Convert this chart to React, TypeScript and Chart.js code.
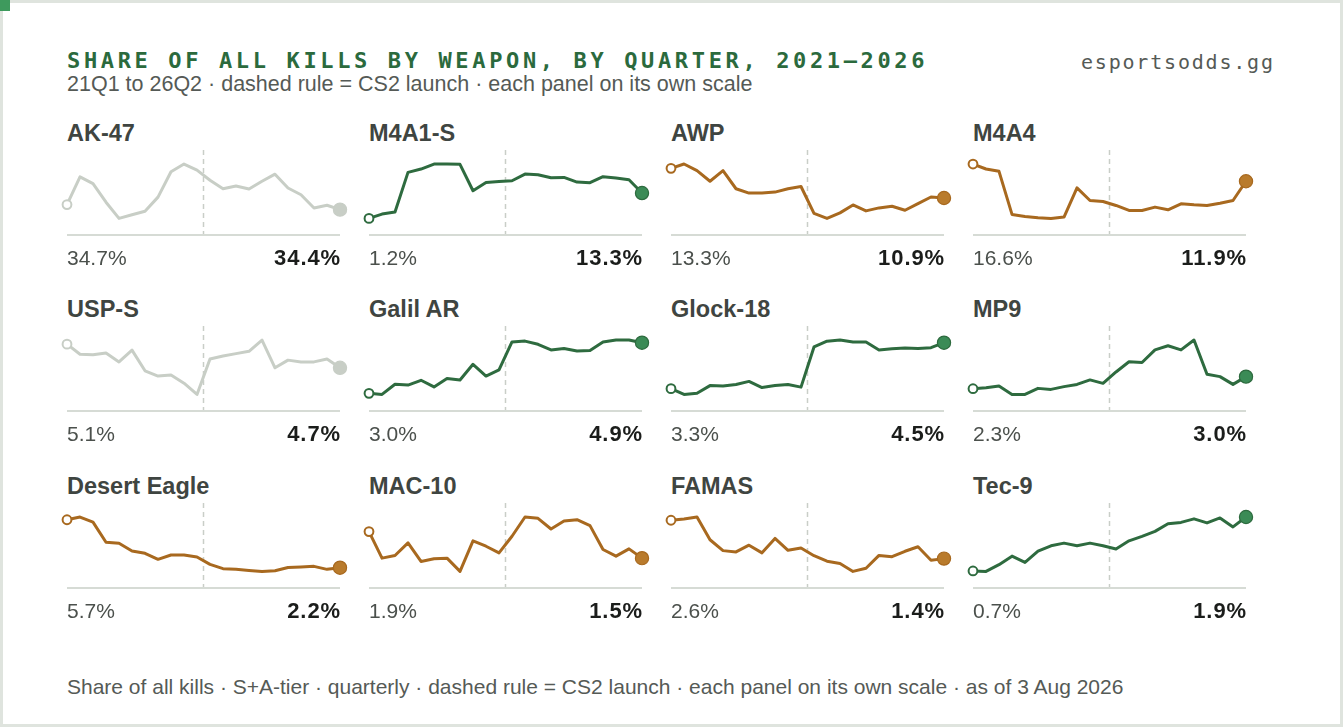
import { useEffect, useRef } from "react";
import { Chart, registerables } from "chart.js";

Chart.register(...registerables);

const quarters = [
  "21Q1", "21Q2", "21Q3", "21Q4", "22Q1", "22Q2", "22Q3", "22Q4",
  "23Q1", "23Q2", "23Q3", "23Q4", "24Q1", "24Q2", "24Q3", "24Q4",
  "25Q1", "25Q2", "25Q3", "25Q4", "26Q1", "26Q2",
];

// CS2 went live at the very end of 23Q3, so the rule sits between 23Q3 and 23Q4
const cs2Launch = 10.5;

// share of all kills, %
const ak47 = [34.7, 36.34, 35.94, 34.84, 33.88, 34.1, 34.3, 35.14, 36.64, 37.1, 36.74, 36.14, 35.64, 35.8, 35.62, 36.08, 36.5, 35.68, 35.28, 34.5, 34.66, 34.4];
const m4a1s = [1.2, 3.27, 4.22, 23.17, 24.76, 27.15, 27.15, 26.99, 14.41, 18.39, 18.87, 19.19, 22.37, 22.06, 20.62, 20.78, 18.55, 18.23, 21.1, 20.46, 19.67, 13.3];
const awp = [13.3, 13.65, 13.11, 12.26, 13.11, 11.65, 11.3, 11.3, 11.38, 11.65, 11.83, 9.65, 9.25, 9.7, 10.34, 9.86, 10.1, 10.23, 9.91, 10.45, 10.98, 10.9];
const m4a4 = [16.6, 15.24, 14.61, 2.86, 2.32, 1.96, 1.77, 2.14, 10.09, 6.66, 6.39, 5.3, 3.94, 3.94, 4.85, 4.12, 5.75, 5.48, 5.3, 5.93, 6.66, 11.9];
const uspS = [5.1, 4.93, 4.92, 4.95, 4.8, 5.0, 4.65, 4.56, 4.58, 4.44, 4.25, 4.85, 4.9, 4.94, 4.98, 5.17, 4.7, 4.83, 4.8, 4.8, 4.85, 4.7];
const galil = [3.0, 2.96, 3.34, 3.31, 3.49, 3.24, 3.56, 3.5, 4.09, 3.65, 3.88, 4.93, 4.96, 4.84, 4.63, 4.68, 4.59, 4.61, 4.93, 5.0, 5.0, 4.9];
const glock = [3.3, 3.15, 3.18, 3.38, 3.37, 3.41, 3.49, 3.33, 3.38, 3.41, 3.34, 4.39, 4.54, 4.57, 4.52, 4.52, 4.31, 4.34, 4.36, 4.35, 4.37, 4.5];
const mp9 = [2.3, 2.36, 2.46, 1.97, 1.97, 2.32, 2.26, 2.42, 2.55, 2.81, 2.61, 3.27, 3.86, 3.82, 4.55, 4.79, 4.55, 5.12, 3.14, 3.0, 2.55, 3.0];
const deagle = [5.7, 5.9, 5.53, 4.06, 3.99, 3.42, 3.25, 2.81, 3.13, 3.13, 2.98, 2.44, 2.13, 2.08, 2.0, 1.93, 1.98, 2.22, 2.25, 2.3, 2.08, 2.2];
const mac10 = [1.9, 1.5, 1.54, 1.73, 1.45, 1.49, 1.5, 1.3, 1.76, 1.68, 1.58, 1.83, 2.12, 2.1, 1.94, 2.06, 2.08, 1.99, 1.63, 1.53, 1.64, 1.5];
const famas = [2.6, 2.64, 2.7, 1.99, 1.65, 1.61, 1.82, 1.58, 2.03, 1.66, 1.73, 1.49, 1.32, 1.25, 1.0, 1.1, 1.5, 1.46, 1.63, 1.77, 1.35, 1.4];
const tec9 = [0.7, 0.69, 0.84, 1.03, 0.89, 1.14, 1.26, 1.32, 1.26, 1.32, 1.26, 1.19, 1.37, 1.47, 1.58, 1.75, 1.78, 1.86, 1.77, 1.88, 1.68, 1.9];

const panels = [
  { name: "AK-47", values: ak47 },
  { name: "M4A1-S", values: m4a1s },
  { name: "AWP", values: awp },
  { name: "M4A4", values: m4a4 },
  { name: "USP-S", values: uspS },
  { name: "Galil AR", values: galil },
  { name: "Glock-18", values: glock },
  { name: "MP9", values: mp9 },
  { name: "Desert Eagle", values: deagle },
  { name: "MAC-10", values: mac10 },
  { name: "FAMAS", values: famas },
  { name: "Tec-9", values: tec9 },
];

const palette = {
  up: { line: "#2e6b3f", dot: "#3b8b56" },
  down: { line: "#a8691f", dot: "#b97b2c" },
  flat: { line: "#c8cec6", dot: "#c8cec6" },
};

const sans = '"Liberation Sans", Arial, sans-serif';
const mono = '"DejaVu Sans Mono", monospace';

const PAD = 10;
const PLOT_W = 273;
const PLOT_H = 85;
const colX = [67, 369, 671, 973];
const rowTop = [150, 326, 503];

function trendOf(values: number[]) {
  const first = values[0];
  const last = values[values.length - 1];
  const rel = (last - first) / first;
  if (Math.abs(rel) < 0.1) return "flat";
  return rel > 0 ? "up" : "down";
}

const rulePlugin = {
  id: "rules",
  beforeDatasetsDraw(chart: any) {
    const { ctx, chartArea, scales } = chart;
    const x = scales.x.getPixelForValue(cs2Launch);
    ctx.save();
    ctx.strokeStyle = "#c9cec8";
    ctx.lineWidth = 1.5;
    ctx.setLineDash([5, 4]);
    ctx.beginPath();
    ctx.moveTo(x, chartArea.top);
    ctx.lineTo(x, chartArea.bottom);
    ctx.stroke();
    ctx.setLineDash([]);
    ctx.strokeStyle = "#d6dbd5";
    ctx.lineWidth = 2;
    ctx.beginPath();
    ctx.moveTo(chartArea.left, chartArea.bottom);
    ctx.lineTo(chartArea.right, chartArea.bottom);
    ctx.stroke();
    ctx.restore();
  },
};

function Sparkline({ values }: { values: number[] }) {
  const canvasRef = useRef<HTMLCanvasElement | null>(null);

  useEffect(() => {
    if (!canvasRef.current) {
      return;
    }
    const colors = palette[trendOf(values)];
    const last = values.length - 1;
    const lo = Math.min(...values);
    const hi = Math.max(...values);
    const span = hi - lo;

    const chart = new Chart(canvasRef.current, {
      type: "line",
      data: {
        labels: quarters,
        datasets: [
          {
            data: values,
            borderColor: colors.line,
            borderWidth: 3,
            borderJoinStyle: "round",
            borderCapStyle: "round",
            tension: 0,
            clip: false,
            pointRadius: (c: any) => (c.dataIndex === 0 ? 4.4 : c.dataIndex === last ? 6.6 : 0),
            pointBackgroundColor: (c: any) => (c.dataIndex === 0 ? "#ffffff" : colors.dot),
            pointBorderColor: colors.line,
            pointBorderWidth: (c: any) => (c.dataIndex === 0 ? 2 : 1.2),
          },
        ],
      },
      options: {
        animation: false,
        responsive: true,
        maintainAspectRatio: false,
        events: [],
        layout: { padding: PAD },
        plugins: {
          legend: { display: false },
          tooltip: { enabled: false },
        },
        scales: {
          x: { display: false },
          y: { display: false, min: lo - 0.305 * span, max: hi + 0.258 * span },
        },
      },
      plugins: [rulePlugin],
    });

    return () => {
      chart.destroy();
    };
  }, [values]);

  return <canvas ref={canvasRef} />;
}

function Text({
  x,
  cy,
  size,
  children,
  style,
}: {
  x: number;
  cy: number;
  size: number;
  children: any;
  style?: any;
}) {
  const lh = Math.round(size * 1.4);
  return (
    <div
      style={{
        position: "absolute",
        left: x,
        top: cy - lh / 2,
        lineHeight: lh + "px",
        fontSize: size,
        whiteSpace: "nowrap",
        ...style,
      }}
    >
      {children}
    </div>
  );
}

export default function App() {
  return (
    <div style={{ position: "fixed", inset: 0, background: "#dfe4de", overflow: "hidden", fontFamily: sans }}>
      <div style={{ position: "absolute", left: 3, top: 3, width: 1337, height: 721, background: "#ffffff" }} />
      <div style={{ position: "absolute", left: 0, top: 0, width: 10, height: 11, background: "#3e9a5d" }} />

      <Text
        x={67}
        cy={60}
        size={22}
        style={{ fontFamily: mono, fontWeight: 700, letterSpacing: "3.64px", color: "#2b6a3d" }}
      >
        SHARE OF ALL KILLS BY WEAPON, BY QUARTER, 2021–2026
      </Text>
      <Text
        x={1081}
        cy={62}
        size={20}
        style={{ fontFamily: mono, letterSpacing: "1.8px", color: "#555a56" }}
      >
        esportsodds.gg
      </Text>
      <Text x={67} cy={84} size={21.5} style={{ color: "#555a56" }}>
        21Q1 to 26Q2 · dashed rule = CS2 launch · each panel on its own scale
      </Text>

      {panels.map((p, i) => {
        const x = colX[i % 4];
        const top = rowTop[Math.floor(i / 4)];
        const first = p.values[0];
        const last = p.values[p.values.length - 1];
        return (
          <div key={p.name}>
            <Text x={x} cy={top - 17} size={23.5} style={{ fontWeight: 700, color: "#3f4541" }}>
              {p.name}
            </Text>
            <div
              style={{
                position: "absolute",
                left: x - PAD,
                top: top - PAD,
                width: PLOT_W + 2 * PAD,
                height: PLOT_H + 2 * PAD,
              }}
            >
              <Sparkline values={p.values} />
            </div>
            <Text x={x} cy={top + 107} size={21} style={{ color: "#4b504c" }}>
              {first.toFixed(1)}%
            </Text>
            <Text
              x={x}
              cy={top + 107}
              size={22}
              style={{
                width: PLOT_W + 1,
                textAlign: "right",
                fontWeight: 700,
                letterSpacing: "0.9px",
                color: "#1b1d1b",
              }}
            >
              {last.toFixed(1)}%
            </Text>
          </div>
        );
      })}

      <Text x={67} cy={686} size={21} style={{ color: "#555a56" }}>
        Share of all kills · S+A-tier · quarterly · dashed rule = CS2 launch · each panel on its own scale · as of 3 Aug 2026
      </Text>
    </div>
  );
}
